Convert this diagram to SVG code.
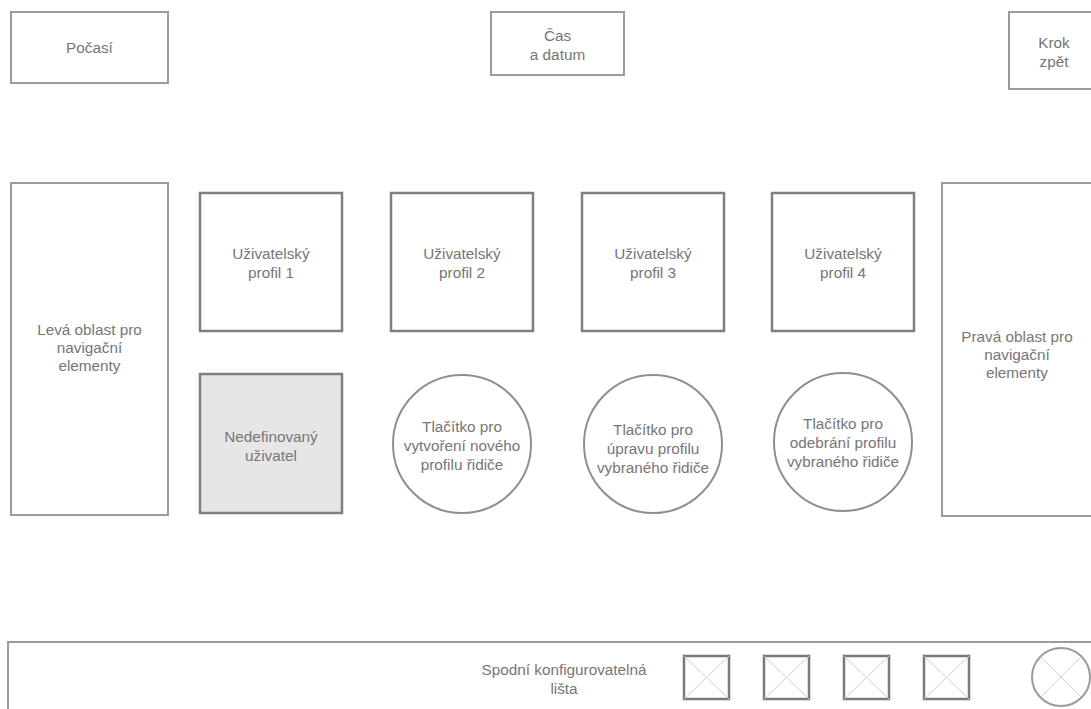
<svg xmlns="http://www.w3.org/2000/svg" width="1091" height="709" viewBox="0 0 1091 709">
  <style>
    .panel { fill: #ffffff; stroke: #9b9b9b; stroke-width: 2; }
    .tile { fill: #ffffff; stroke: #7f7f7f; stroke-width: 2.5; }
    .tile-off { fill: #e6e6e6; stroke: #7f7f7f; stroke-width: 2.5; }
    .btn { fill: #ffffff; stroke: #8f8f8f; stroke-width: 2; }
    .icon { fill: #ffffff; stroke: #7a7a7a; stroke-width: 2.5; }
    .icon-round { fill: #ffffff; stroke: #9b9b9b; stroke-width: 2; }
    .cross { stroke: #cfcfcf; stroke-width: 1; fill: none; }
    text { font-family: "Liberation Sans", Arial, sans-serif; font-size: 15.3px; fill: #767676; text-anchor: middle; dominant-baseline: central; }
  </style>

  <rect width="1091" height="709" fill="#ffffff"/>

  <!-- top row -->
  <g id="weather">
    <rect class="panel" x="11" y="12" width="157" height="71"/>
    <text x="89.5" y="47">Počasí</text>
  </g>
  <g id="clock">
    <rect class="panel" x="491" y="12" width="133" height="63"/>
    <text x="557.5" y="35">Čas</text>
    <text x="557.5" y="54">a datum</text>
  </g>
  <g id="back">
    <rect class="panel" x="1009" y="12" width="90" height="77"/>
    <text x="1054" y="42">Krok</text>
    <text x="1054" y="61">zpět</text>
  </g>

  <!-- side navigation areas -->
  <g id="nav-left">
    <rect class="panel" x="11" y="183" width="157" height="332"/>
    <text x="89.5" y="329">Levá oblast pro</text>
    <text x="89.5" y="347">navigační</text>
    <text x="89.5" y="365">elementy</text>
  </g>
  <g id="nav-right">
    <rect class="panel" x="942" y="183" width="160" height="333"/>
    <text x="1017" y="336">Pravá oblast pro</text>
    <text x="1017" y="354">navigační</text>
    <text x="1017" y="372">elementy</text>
  </g>

  <!-- user profiles -->
  <g id="profile-1">
    <rect class="tile" x="200" y="193" width="142" height="138"/>
    <text x="271" y="253">Uživatelský</text>
    <text x="271" y="272">profil 1</text>
  </g>
  <g id="profile-2">
    <rect class="tile" x="391" y="193" width="142" height="138"/>
    <text x="462" y="253">Uživatelský</text>
    <text x="462" y="272">profil 2</text>
  </g>
  <g id="profile-3">
    <rect class="tile" x="582" y="193" width="142" height="138"/>
    <text x="653" y="253">Uživatelský</text>
    <text x="653" y="272">profil 3</text>
  </g>
  <g id="profile-4">
    <rect class="tile" x="772" y="193" width="142" height="138"/>
    <text x="843" y="253">Uživatelský</text>
    <text x="843" y="272">profil 4</text>
  </g>

  <g id="guest">
    <rect class="tile-off" x="200" y="374" width="142" height="139"/>
    <text x="271" y="436">Nedefinovaný</text>
    <text x="271" y="455">uživatel</text>
  </g>

  <!-- profile action buttons -->
  <g id="btn-create">
    <circle class="btn" cx="462" cy="444" r="69"/>
    <text x="462" y="426">Tlačítko pro</text>
    <text x="462" y="445">vytvoření nového</text>
    <text x="462" y="464">profilu řidiče</text>
  </g>
  <g id="btn-edit">
    <circle class="btn" cx="653" cy="444" r="69"/>
    <text x="653" y="429">Tlačítko pro</text>
    <text x="653" y="448">úpravu profilu</text>
    <text x="653" y="467">vybraného řidiče</text>
  </g>
  <g id="btn-remove">
    <circle class="btn" cx="843" cy="442" r="69"/>
    <text x="843" y="423">Tlačítko pro</text>
    <text x="843" y="442">odebrání profilu</text>
    <text x="843" y="461">vybraného řidiče</text>
  </g>

  <!-- bottom configurable bar -->
  <g id="bottom-bar">
    <rect class="panel" x="8" y="642" width="1095" height="80"/>
    <text x="564" y="669">Spodní konfigurovatelná</text>
    <text x="564" y="688">lišta</text>
  </g>
  <g id="slot-1">
    <rect class="icon" x="684" y="656" width="45" height="43"/>
    <path class="cross" d="M684 656 L729 699 M729 656 L684 699"/>
  </g>
  <g id="slot-2">
    <rect class="icon" x="764" y="656" width="45" height="43"/>
    <path class="cross" d="M764 656 L809 699 M809 656 L764 699"/>
  </g>
  <g id="slot-3">
    <rect class="icon" x="844" y="656" width="45" height="43"/>
    <path class="cross" d="M844 656 L889 699 M889 656 L844 699"/>
  </g>
  <g id="slot-4">
    <rect class="icon" x="924" y="656" width="45" height="43"/>
    <path class="cross" d="M924 656 L969 699 M969 656 L924 699"/>
  </g>
  <g id="slot-round">
    <circle class="icon-round" cx="1061" cy="677" r="29"/>
    <path class="cross" d="M1040.5 656.5 L1081.5 697.5 M1081.5 656.5 L1040.5 697.5"/>
  </g>

  <g id="connectors"/>
</svg>
